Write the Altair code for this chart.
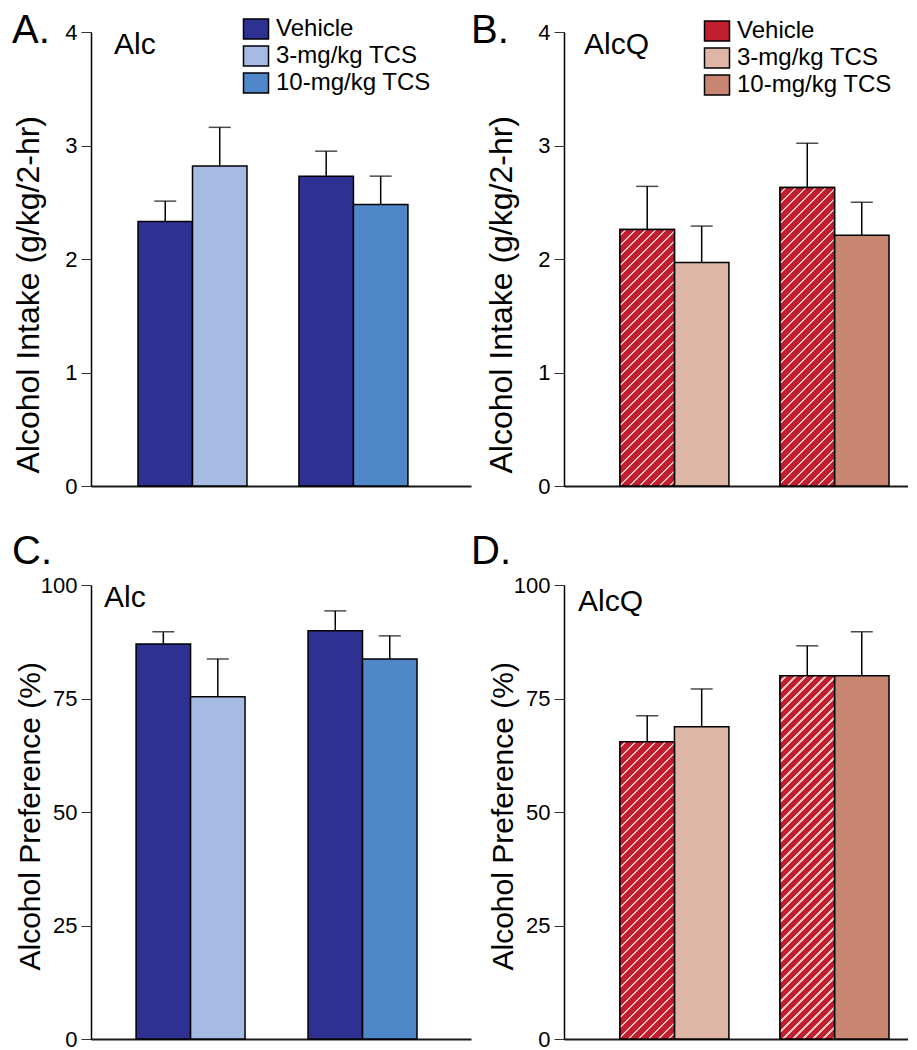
import altair as alt
import pandas as pd

# ---- data ----
groups = ["Group 1", "Group 1", "Group 2", "Group 2"]
slots = ["first", "second", "first", "second"]
treatments = ["Vehicle", "3-mg/kg TCS", "Vehicle", "10-mg/kg TCS"]
legend_order = ["Vehicle", "3-mg/kg TCS", "10-mg/kg TCS"]

intake_alc_mean = [2.33, 2.82, 2.73, 2.48]
intake_alc_sem = [0.18, 0.34, 0.22, 0.25]
intake_alcq_mean = [2.26, 1.97, 2.63, 2.21]
intake_alcq_sem = [0.38, 0.32, 0.39, 0.29]
pref_alc_mean = [87.0, 75.4, 89.9, 83.7]
pref_alc_sem = [2.7, 8.3, 4.4, 5.1]
pref_alcq_mean = [65.5, 68.8, 80.0, 80.0]
pref_alcq_sem = [5.7, 8.3, 6.6, 9.7]

intake_ticks = [0, 1, 2, 3, 4]
pref_ticks = [0, 25, 50, 75, 100]

panel_letters = ["A.", "B.", "C.", "D."]
panel_tags = ["Alc", "AlcQ", "Alc", "AlcQ"]
y_titles = ["Alcohol Intake (g/kg/2-hr)", "Alcohol Preference (%)"]

alc_colors = ["#2E3192", "#A5BBE3", "#4F87C8"]
alcq_colors = ["#C11F2E", "#DDB6A6", "#C88672"]
hatch_color = "#F2C4C6"

FONT = "Liberation Sans"
PANEL_H = 454


def hatch_fill(base_col, line_col, w, h, period=10.0, thick=2.2):
    """Diagonal '/' hatching as a sharp-stop linear gradient for a w x h box."""
    L = w + h
    k = L / (w * w + h * h)
    stops = [{"offset": 0, "color": base_col}]
    n = 0
    while True:
        o1 = (n * period + 5.0) / L
        o2 = (n * period + 5.0 + thick) / L
        if o2 >= 1:
            break
        stops += [
            {"offset": round(o1, 5), "color": base_col},
            {"offset": round(o1, 5), "color": line_col},
            {"offset": round(o2, 5), "color": line_col},
            {"offset": round(o2, 5), "color": base_col},
        ]
        n += 1
    stops.append({"offset": 1, "color": base_col})
    return {"gradient": "linear", "x1": 0, "y1": 0,
            "x2": round(k * w, 5), "y2": round(k * h, 5), "stops": stops}


def panel(mean, sem, colors, ymax, ticks, ytitle, title_fs, letter, tag, width,
          xscale, title_start, legend_xy, letter_xy, tag_xy, hatch=False, fmt="d"):
    df = pd.DataFrame({
        "group": groups,
        "slot": slots,
        "treatment": treatments,
        "mean": mean,
        "upper": [m + s for m, s in zip(mean, sem)],
    })
    xenc = alt.X("group:N", scale=alt.Scale(**xscale),
                 axis=alt.Axis(labels=False, ticks=False, title=None,
                               domainColor="#1a1a1a", domainWidth=2))
    xoff = alt.XOffset("slot:N", scale=alt.Scale(paddingInner=0, paddingOuter=0))
    base = alt.Chart(df).encode(x=xenc, xOffset=xoff)
    if legend_xy is not None:
        legend = alt.Legend(
            orient="none", legendX=legend_xy[0], legendY=legend_xy[1], title=None,
            symbolType="M-1.25,-1H1.25V1H-1.25Z", symbolSize=400,
            symbolStrokeColor="black", symbolStrokeWidth=1.5, symbolOpacity=1,
            labelFontSize=24, labelFont=FONT, labelColor="black", labelOffset=8,
            rowPadding=1, padding=0,
        )
    else:
        legend = None
    bars = base.mark_bar(stroke="black", strokeWidth=1.5, opacity=1).encode(
        y=alt.Y("mean:Q", scale=alt.Scale(domain=[0, ymax], nice=False, zero=True),
                axis=alt.Axis(values=ticks, format=fmt, title=ytitle, grid=False,
                              domainColor="black", domainWidth=1.5,
                              tickColor="#333333", tickSize=10, tickWidth=1,
                              labelFontSize=22, labelFont=FONT, labelColor="black",
                              labelPadding=4,
                              titleFont=FONT, titleFontSize=title_fs, titleFontWeight="normal",
                              titleColor="black", titleAngle=270, titleBaseline="bottom",
                              titleAlign="left", titleX=-46, titleY=title_start)),
        color=alt.Color("treatment:N", scale=alt.Scale(domain=legend_order, range=colors),
                        legend=legend),
    )
    layers = [bars]
    if hatch:
        # bar box size in pixels from the panel's own scales
        step = width / (len(set(groups)) - xscale["paddingInner"] + 2 * xscale["paddingOuter"])
        bar_w = step * (1 - xscale["paddingInner"]) / 2
        for g, t, m in zip(groups, treatments, mean):
            if t != "Vehicle":
                continue
            bar_h = m / ymax * PANEL_H
            layers.append(
                base.transform_filter(
                    (alt.datum.group == g) & (alt.datum.treatment == t)
                ).mark_bar(fill=hatch_fill(colors[0], hatch_color, bar_w, bar_h),
                           stroke="black", strokeWidth=1.5, opacity=1)
                .encode(y="mean:Q")
            )
    err = base.mark_rule(color="black", strokeWidth=1.5).encode(y="mean:Q", y2="upper:Q")
    cap = base.mark_tick(color="black", thickness=1.5, size=22).encode(y="upper:Q")
    lab = alt.Chart(pd.DataFrame({"t": [letter]})).mark_text(
        font=FONT, fontSize=40, align="left", baseline="alphabetic", color="black"
    ).encode(text="t:N", x=alt.value(letter_xy[0]), y=alt.value(letter_xy[1]))
    tg = alt.Chart(pd.DataFrame({"t": [tag]})).mark_text(
        font=FONT, fontSize=30, align="left", baseline="alphabetic", color="black"
    ).encode(text="t:N", x=alt.value(tag_xy[0]), y=alt.value(tag_xy[1]))
    layers += [err, cap, lab, tg]
    return alt.layer(*layers).properties(width=width, height=PANEL_H)


pA = panel(intake_alc_mean, intake_alc_sem, alc_colors, 4, intake_ticks, y_titles[0], 32,
           panel_letters[0], panel_tags[0], 380,
           dict(paddingInner=0.323, paddingOuter=0.342, align=0.427),
           441, (153, -15), (-79, 11), (23, 22))
pB = panel(intake_alcq_mean, intake_alcq_sem, alcq_colors, 4, intake_ticks, y_titles[0], 32,
           panel_letters[1], panel_tags[1], 344,
           dict(paddingInner=0.319, paddingOuter=0.234, align=0.747),
           441, (141, -13), (-93, 11), (20, 22), hatch=True)
pC = panel(pref_alc_mean, pref_alc_sem, alc_colors, 100, pref_ticks, y_titles[1], 30,
           panel_letters[2], panel_tags[2], 380,
           dict(paddingInner=0.36, paddingOuter=0.285, align=0.46),
           385, None, (-79, -21), (13, 22))
pD = panel(pref_alcq_mean, pref_alcq_sem, alcq_colors, 100, pref_ticks, y_titles[1], 30,
           panel_letters[3], panel_tags[3], 344,
           dict(paddingInner=0.319, paddingOuter=0.234, align=0.747),
           385, None, (-93, -21), (14, 26), hatch=True)

chart = alt.concat(
    pA, pB, pC, pD, columns=2, spacing={"row": 99, "column": 93}, bounds="flush"
).resolve_scale(color="independent").properties(
    padding={"left": 3, "top": 3, "right": 0, "bottom": 0}
).configure(font=FONT, background="white").configure_view(stroke=None)

chart.save("out.html", embed_options={"renderer": "svg", "actions": False})
